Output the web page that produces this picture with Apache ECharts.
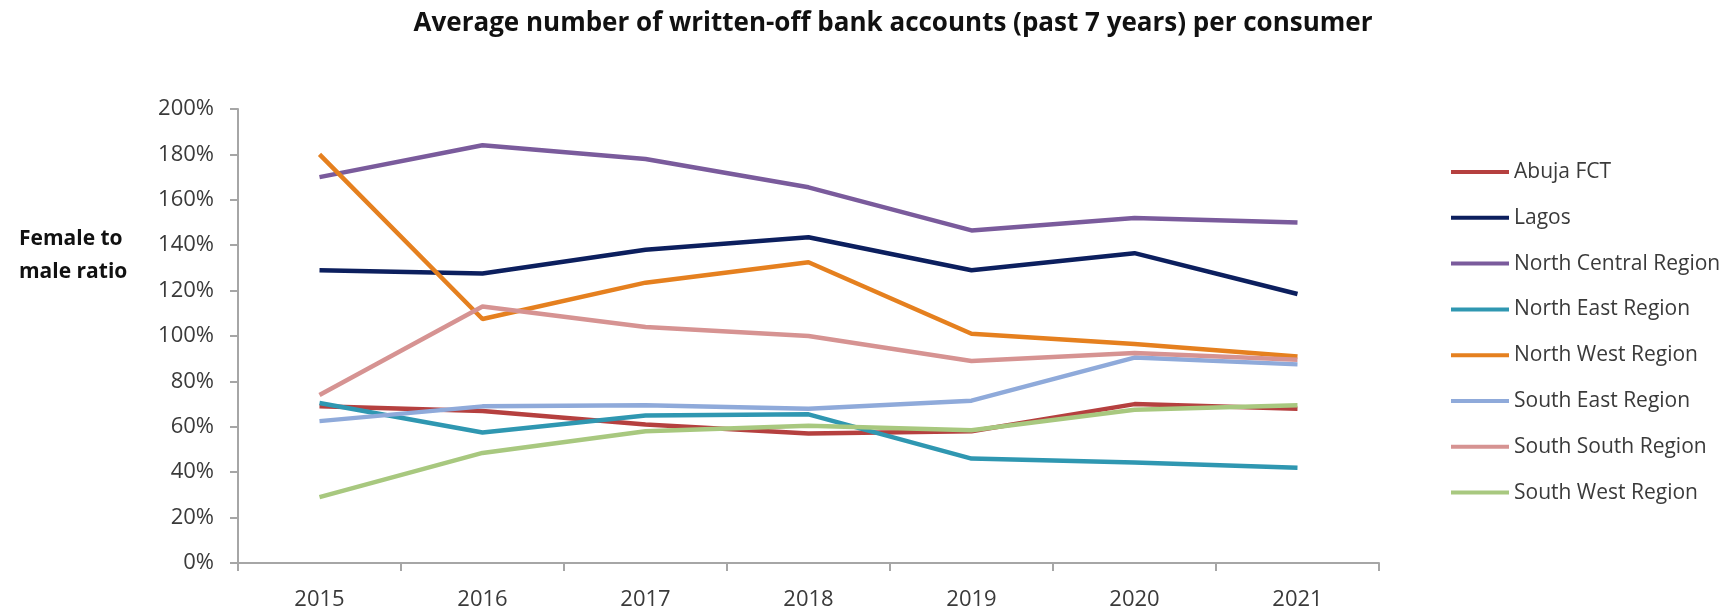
<!DOCTYPE html>
<html>
<head>
<meta charset="utf-8">
<title>Written-off bank accounts – female to male ratio</title>
<script src="https://cdn.jsdelivr.net/npm/echarts@6/dist/echarts.min.js"></script>
<style>
  html, body { margin: 0; padding: 0; background: #ffffff; }
  #chart { width: 1724px; height: 611px; }
</style>
</head>
<body>
<div id="chart"></div>
<script>
// Years on the category axis
const years = ['2015', '2016', '2017', '2018', '2019', '2020', '2021'];

// Female to male ratio (%) per region and year
const abujaFct       = [69, 67, 61, 57, 58, 70, 68];
const lagos          = [129, 127.5, 138, 143.5, 129, 136.5, 118.5];
const northCentral   = [170, 184, 178, 165.5, 146.5, 152, 150];
const northEast      = [70.5, 57.5, 65, 65.5, 46, 44.3, 42];
const northWest      = [180, 107.5, 123.5, 132.5, 101, 96.5, 91];
const southEast      = [62.5, 69, 69.5, 68, 71.5, 90.5, 87.5];
const southSouth     = [74, 113, 104, 100, 89, 92.5, 89.5];
const southWest      = [29, 48.5, 58, 60.5, 58.5, 67.5, 69.5];

// Y axis tick settings (percent)
const yMin = 0, yMax = 200, yStep = 20;

const seriesDefs = [
  { name: 'Abuja FCT',            data: abujaFct,     color: '#B5403F' },
  { name: 'Lagos',                data: lagos,        color: '#0C1F5E' },
  { name: 'North Central Region', data: northCentral, color: '#7A5B9C' },
  { name: 'North East Region',    data: northEast,    color: '#2F97B1' },
  { name: 'North West Region',    data: northWest,    color: '#E5801F' },
  { name: 'South East Region',    data: southEast,    color: '#8FAADA' },
  { name: 'South South Region',   data: southSouth,   color: '#D69392' },
  { name: 'South West Region',    data: southWest,    color: '#A8C87F' }
];

const FONT = '"Open Sans", "DejaVu Sans", sans-serif';
const axisGrey = '#a6a6a6';
const labelGrey = '#3a3a3a';

const chart = echarts.init(document.getElementById('chart'), null, { renderer: 'canvas' });

chart.setOption({
  backgroundColor: '#ffffff',
  animation: false,
  title: [
    {
      text: 'Average number of written-off bank accounts (past 7 years) per consumer',
      left: 888,
      top: 6,
      textAlign: 'center',
      textStyle: { fontFamily: FONT, fontSize: 26, fontWeight: 'bold', color: '#111111' }
    },
    {
      text: 'Female to\nmale ratio',
      left: 14,
      top: 218,
      textStyle: { fontFamily: FONT, fontSize: 21, fontWeight: 'bold', color: '#111111', lineHeight: 33 }
    }
  ],
  legend: {
    orient: 'vertical',
    left: 1446,
    top: 155.5,
    icon: 'rect',
    itemWidth: 58,
    itemHeight: 4,
    itemGap: 22.8,
    textStyle: { fontFamily: FONT, fontSize: 21, color: labelGrey, lineHeight: 23 },
    data: seriesDefs.map(s => s.name)
  },
  grid: { left: 238, top: 109, width: 1141, height: 454, containLabel: false },
  xAxis: {
    type: 'category',
    data: years,
    boundaryGap: true,
    axisLine: { show: true, lineStyle: { color: axisGrey, width: 2 } },
    axisTick: { show: true, length: 8, lineStyle: { color: axisGrey, width: 2 } },
    axisLabel: { margin: 26, fontFamily: FONT, fontSize: 22, color: labelGrey },
    splitLine: { show: false }
  },
  yAxis: {
    type: 'value',
    min: yMin,
    max: yMax,
    interval: yStep,
    axisLine: { show: true, lineStyle: { color: axisGrey, width: 2 } },
    axisTick: { show: true, length: 8, lineStyle: { color: axisGrey, width: 2 } },
    axisLabel: { margin: 24, fontFamily: FONT, fontSize: 22, color: labelGrey, formatter: '{value}%' },
    splitLine: { show: false }
  },
  series: seriesDefs.map(s => ({
    name: s.name,
    type: 'line',
    data: s.data,
    symbol: 'none',
    smooth: false,
    color: s.color,
    lineStyle: { color: s.color, width: 4.5 },
    itemStyle: { color: s.color }
  }))
});
</script>
</body>
</html>
